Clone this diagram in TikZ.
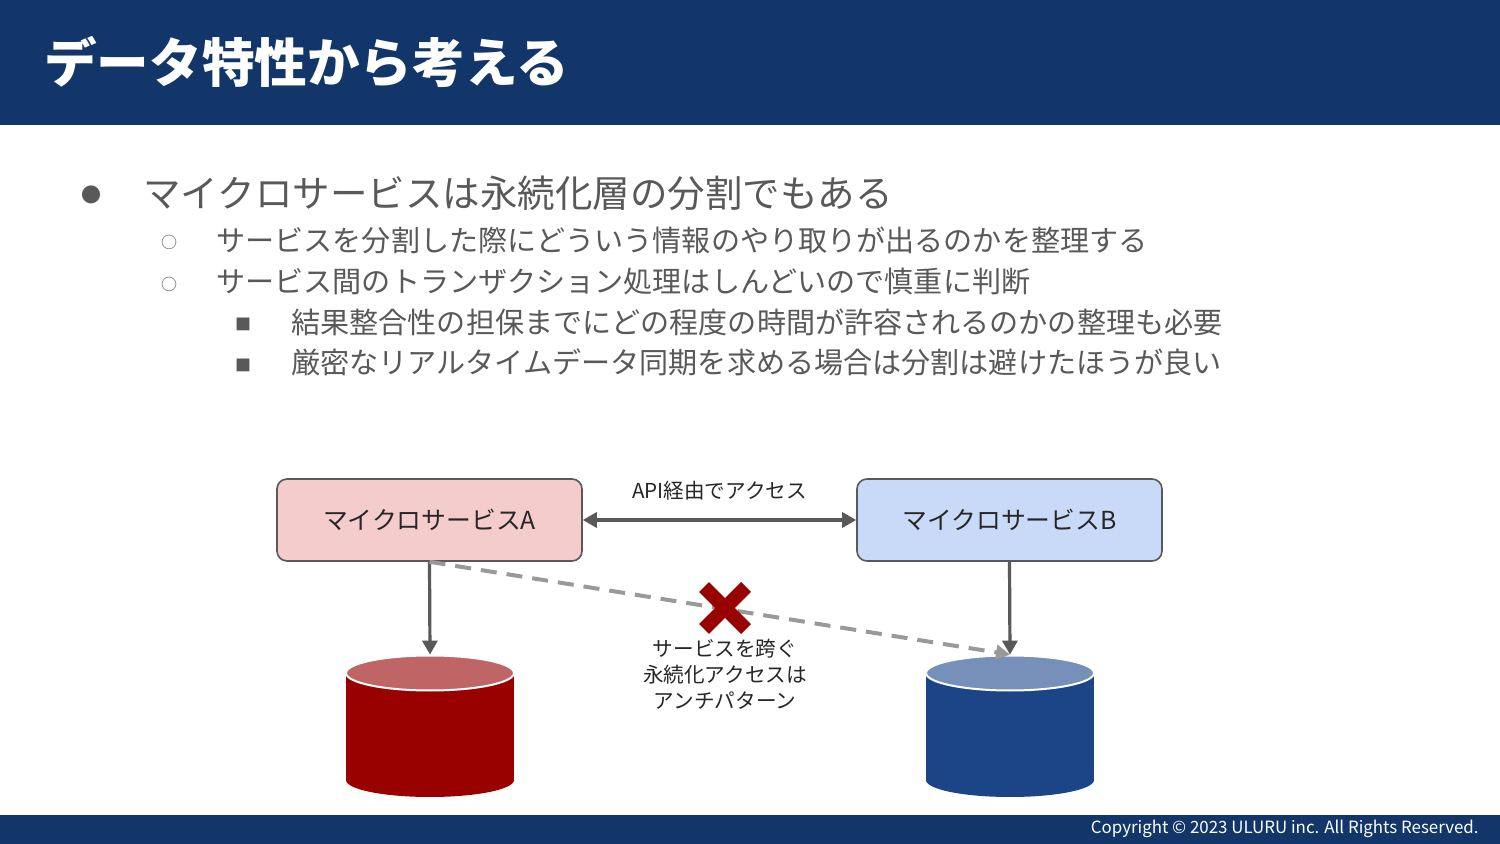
\documentclass[tikz,border=0pt]{standalone}
\usepackage{fontspec}
\setmainfont{Noto Sans CJK JP}
\usetikzlibrary{arrows.meta}
\definecolor{navy}{HTML}{12356A}
\definecolor{txtgray}{HTML}{595959}
\definecolor{linegray}{HTML}{595959}
\definecolor{dashgray}{HTML}{999999}
\definecolor{boxA}{HTML}{F4CCCC}
\definecolor{boxB}{HTML}{C9DAF8}
\definecolor{dbredbody}{HTML}{990000}
\definecolor{dbredtop}{HTML}{C06565}
\definecolor{dbbluebody}{HTML}{1C4587}
\definecolor{dbbluetop}{HTML}{7690BA}
\definecolor{xred}{HTML}{990000}
\tikzset{
  bar/.style={fill=navy, draw=none},
  lvlone/.style={anchor=west, inner sep=0pt, text=txtgray, font=\fontsize{18.75pt}{22pt}\selectfont},
  lvltwo/.style={anchor=west, inner sep=0pt, text=txtgray, font=\fontsize{14.55pt}{18pt}\selectfont},
  bul/.style={inner sep=0pt, text=txtgray},
  svcbox/.style={draw=linegray, line width=0.8pt, rounded corners=5pt, minimum width=152.5pt, minimum height=41pt, font=\fontsize{12.4pt}{15pt}\selectfont, text=black!85},
  conn/.style={draw=linegray, line width=1.6pt},
  tip/.style={-{Triangle[length=7pt,width=7.5pt]}},
  dashconn/.style={draw=dashgray, line width=2pt, dash pattern=on 8pt off 5pt, -{Triangle[length=7pt,width=7.5pt,fill=dashgray]}},
  smalltxt/.style={font=\fontsize{10.3pt}{12.5pt}\selectfont, text=black!85, inner sep=0pt},
  holder/.style={draw=none, inner sep=0pt, minimum width=84pt, minimum height=71pt}
}
\begin{document}
\begin{tikzpicture}[x=0.5pt, y=-0.5pt]
\useasboundingbox (0,0) rectangle (1500,844);
\fill[white] (0,0) rectangle (1500,844);
% header and footer
\path[bar] (0,0) rectangle (1500,125);
\path[bar] (0,815) rectangle (1500,844);
\node[anchor=west, inner sep=0pt, text=white, font=\fontsize{26.3pt}{30pt}\selectfont\bfseries] (title) at (44,62) {データ特性から考える};
\node[anchor=east, inner sep=0pt, text=white, font=\fontsize{8.45pt}{10pt}\selectfont] (copy) at (1479,829) {Copyright © 2023 ULURU inc. All Rights Reserved.};

% bullets
\node[bul, font=\fontsize{10pt}{12pt}\selectfont] (b1) at (91,195) {●};
\node[lvlone] (t1) at (143,193) {マイクロサービスは永続化層の分割でもある};
\node[bul, font=\fontsize{8pt}{9pt}\selectfont] (b2) at (169,242) {○};
\node[lvltwo] (t2) at (216,240) {サービスを分割した際にどういう情報のやり取りが出るのかを整理する};
\node[bul, font=\fontsize{8pt}{9pt}\selectfont] (b3) at (169,284) {○};
\node[lvltwo] (t3) at (216,282) {サービス間のトランザクション処理はしんどいので慎重に判断};
\node[bul, font=\fontsize{8pt}{9pt}\selectfont] (b4) at (243,324) {■};
\node[lvltwo] (t4) at (291,322) {結果整合性の担保までにどの程度の時間が許容されるのかの整理も必要};
\node[bul, font=\fontsize{8pt}{9pt}\selectfont] (b5) at (243,365) {■};
\node[lvltwo] (t5) at (291,362) {厳密なリアルタイムデータ同期を求める場合は分割は避けたほうが良い};

% service boxes
\node[svcbox, fill=boxA] (svcA) at (429.5,520) {マイクロサービスA};
\node[svcbox, fill=boxB] (svcB) at (1009.5,520) {マイクロサービスB};

% databases
\node[holder] (dbA) at (430,726) {};
\node[holder] (dbB) at (1010,726) {};
\fill[dbredbody] (346,673) rectangle (514,780);
\fill[dbredbody] (430,780) ellipse [x radius=84, y radius=17];
\filldraw[fill=dbredtop, draw=white, line width=1pt] (430,673) ellipse [x radius=84, y radius=17.5];
\fill[dbbluebody] (926,673) rectangle (1094,780);
\fill[dbbluebody] (1010,780) ellipse [x radius=84, y radius=17];
\filldraw[fill=dbbluetop, draw=white, line width=1pt] (1010,673) ellipse [x radius=84, y radius=17.5];

% connectors
\draw[conn, {Triangle[length=7pt,width=7.5pt]}-{Triangle[length=7pt,width=7.5pt]}] (svcA.east) -- (svcB.west) node[midway, above=9pt, smalltxt] (api) {API経由でアクセス};
\draw[conn, tip] (svcA.south) -- (dbA.north);
\draw[conn, tip] (svcB.south) -- (dbB.north);
\draw[dashconn] (svcA.south) -- (dbB.north);

% red cross
\coordinate (xc) at (725,608);
\draw[xred, line width=7pt] ([shift={(-21,-21)}]xc) -- ([shift={(21,21)}]xc);
\draw[xred, line width=7pt] ([shift={(-21,21)}]xc) -- ([shift={(21,-21)}]xc);

\node[smalltxt, align=center] (anti) at (725,674) {サービスを跨ぐ\\[0.5pt]永続化アクセスは\\[0.5pt]アンチパターン};
\end{tikzpicture}
\end{document}
